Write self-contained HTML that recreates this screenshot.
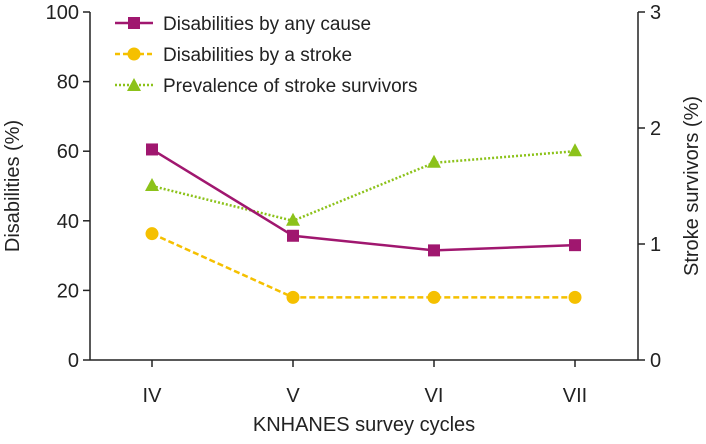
<!DOCTYPE html>
<html><head><meta charset="utf-8"><style>
body{margin:0;background:#fff}
svg text{font-family:"Liberation Sans",sans-serif;fill:#222}
</style></head><body>
<svg width="706" height="439" viewBox="0 0 706 439">
<g id="axes"></g><g id="series"></g>
<g>
 <g>
  <line x1="115" y1="23" x2="153" y2="23" stroke="#a0176f" stroke-width="2.5"/>
  <rect x="128" y="17" width="12" height="12" fill="#a0176f"/>
  <text x="163" y="30" font-size="19">Disabilities by any cause</text></g>
 <g>
  <line x1="115" y1="54" x2="153" y2="54" stroke="#f5c000" stroke-width="2.5" stroke-dasharray="5,3"/>
  <circle cx="134" cy="54" r="6.5" fill="#f5c000"/>
  <text x="163" y="61" font-size="19">Disabilities by a stroke</text></g>
 <g>
  <line x1="115" y1="85" x2="153" y2="85" stroke="#8cc21a" stroke-width="2.5" stroke-dasharray="2,2"/>
  <polygon points="134,78 141,91 127,91" fill="#8cc21a"/>
  <text x="163" y="92" font-size="19">Prevalence of stroke survivors</text></g>
</g>
</svg>
<script>
const categories=["IV","V","VI","VII"];
const anyCause=[60.5,35.7,31.5,33];
const byStroke=[36.3,18,18,18];
const survivors=[1.5,1.2,1.7,1.8];
const leftTicks=[0,20,40,60,80,100];
const rightTicks=[0,1,2,3];
const NS="http://www.w3.org/2000/svg";
const L=90,R=638,T=12,B=360;
const x=i=>152+i*141;
const yL=v=>B-(v/100)*(B-T);
const yR=v=>B-(v/3)*(B-T);
function mk(tag,attrs,parent,txt){const e=document.createElementNS(NS,tag);for(const k in attrs)e.setAttribute(k,attrs[k]);if(txt!==undefined)e.textContent=txt;parent.appendChild(e);return e;}
const ax=document.getElementById('axes'),se=document.getElementById('series');
let e;
e=mk('line',{x1:L,y1:T,x2:L,y2:B,stroke:'#222','stroke-width':1.5},ax);


e=mk('line',{x1:R,y1:T,x2:R,y2:B,stroke:'#222','stroke-width':1.5},ax);


e=mk('line',{x1:L,y1:B,x2:R,y2:B,stroke:'#222','stroke-width':1.5},ax);


leftTicks.forEach(v=>{mk('line',{x1:L-7,y1:yL(v),x2:L,y2:yL(v),stroke:'#222','stroke-width':1.5},ax);
 e=mk('text',{x:L-11,y:yL(v)+7,'font-size':20,'text-anchor':'end'},ax,v);
 
 });
rightTicks.forEach(v=>{mk('line',{x1:R,y1:yR(v),x2:R+7,y2:yR(v),stroke:'#222','stroke-width':1.5},ax);
 e=mk('text',{x:R+12,y:yR(v)+7,'font-size':20},ax,v);
 
 });
categories.forEach((c,i)=>{mk('line',{x1:x(i),y1:B,x2:x(i),y2:B+7,stroke:'#222','stroke-width':1.5},ax);
 e=mk('text',{x:x(i),y:B+42,'font-size':20,'text-anchor':'middle'},ax,c);
 
 });
e=mk('text',{x:364,y:431,'font-size':20,'text-anchor':'middle'},ax,'KNHANES survey cycles');


e=mk('text',{x:0,y:0,'font-size':20,'text-anchor':'middle',transform:'translate(19,186) rotate(-90)'},ax,'Disabilities (%)');


e=mk('text',{x:0,y:0,'font-size':20,'text-anchor':'middle',transform:'translate(698,186) rotate(-90)'},ax,'Stroke survivors (%)');


function line(vals,yf,color,dash,name){const pts=vals.map((v,i)=>x(i)+','+yf(v)).join(' ');
 const a={points:pts,fill:'none',stroke:color,'stroke-width':2.5};if(dash)a['stroke-dasharray']=dash;
 e=mk('polyline',a,se);
 
 }
line(survivors,yR,'#8cc21a','2,2','line-survivors');
line(byStroke,yL,'#f5c000','6,3','line-stroke');
line(anyCause,yL,'#a0176f',null,'line-any-cause');
survivors.forEach((v,i)=>{const cx=x(i),cy=yR(v);
 e=mk('polygon',{points:`${cx},${cy-8} ${cx+7},${cy+5} ${cx-7},${cy+5}`,fill:'#8cc21a'},se);
 
 });
byStroke.forEach((v,i)=>{e=mk('circle',{cx:x(i),cy:yL(v),r:6.5,fill:'#f5c000'},se);
 
 });
anyCause.forEach((v,i)=>{e=mk('rect',{x:x(i)-6,y:yL(v)-6,width:12,height:12,fill:'#a0176f'},se);
 
 });
</script>
</body></html>
